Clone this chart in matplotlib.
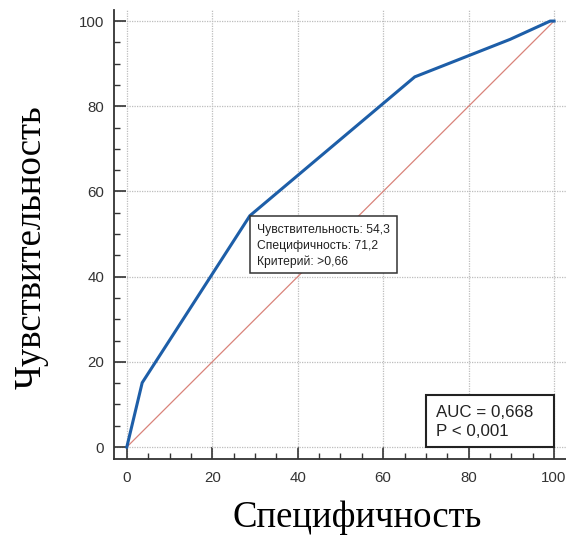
import matplotlib
matplotlib.use("Agg")
import matplotlib.pyplot as plt
from matplotlib.ticker import MultipleLocator
from matplotlib.patches import Rectangle

# ROC data
fpr = [0, 3.6, 28.8, 67.4, 89.7, 99.1, 100]
tpr = [0, 15.1, 54.3, 86.9, 95.7, 100, 100]
diag_x = [0, 100]
diag_y = [0, 100]
major_ticks = [0, 20, 40, 60, 80, 100]
cut_point = (28.8, 54.3)
cut_text = "Чувствительность: 54,3\nСпецифичность: 71,2\nКритерий: >0,66"
auc_text = "AUC = 0,668\nP < 0,001"
xlabel = "Специфичность"
ylabel = "Чувствительность"

fig = plt.figure(figsize=(5.66, 5.37), dpi=100)
ax = fig.add_axes([0.2014, 0.1453, 0.7986, 0.8361])
ax.set_xlim(-3, 102.8)
ax.set_ylim(-2.8, 102.6)

ax.grid(True, which="major", color="#bdbdbd", linestyle=(0, (1, 1)), linewidth=0.9)
ax.set_axisbelow(True)
ax.plot(diag_x, diag_y, color="#d9837a", linewidth=0.9, zorder=2)
ax.plot(fpr, tpr, color="#1d5ea8", linewidth=2.2, zorder=3, solid_joinstyle="miter")

ax.set_xticks(major_ticks)
ax.set_yticks(major_ticks)
ax.xaxis.set_minor_locator(MultipleLocator(5))
ax.yaxis.set_minor_locator(MultipleLocator(5))
ax.tick_params(which="major", direction="in", length=8.8, width=1.2, color="#333333",
               labelsize=10.8, labelcolor="#333333", pad=7)
ax.tick_params(which="minor", direction="in", length=4.3, width=1.0, color="#333333")
for lab in ax.get_xticklabels() + ax.get_yticklabels():
    lab.set_fontfamily("Liberation Sans")
ax.tick_params(axis="x", which="major", pad=9)

for s in ["top", "right"]:
    ax.spines[s].set_visible(False)
for s in ["left", "bottom"]:
    ax.spines[s].set_color("#333333")
    ax.spines[s].set_linewidth(1.3)

ax.set_xlabel(xlabel, family="Liberation Serif", fontsize=26.5, color="black")
ax.set_ylabel(ylabel, family="Liberation Serif", fontsize=26.5, color="black")
ax.xaxis.label.set_verticalalignment("center")
ax.yaxis.label.set_verticalalignment("center")
ax.xaxis.set_label_coords(0.5376, -0.1314)
ax.yaxis.set_label_coords(-0.1836, 0.472)

# cut-point box
ax.add_patch(Rectangle(cut_point, 34.4, -13.5, facecolor="white", edgecolor="#333333",
                       linewidth=1.1, zorder=5))
ax.text(cut_point[0] + 1.6, cut_point[1] - 7.1, cut_text, ha="left", va="center",
        family="Liberation Sans", fontsize=8.7, color="#222222", linespacing=1.45, zorder=6)

# AUC box
ax.add_patch(Rectangle((100, 0), -30.0, 12.2, facecolor="white", edgecolor="#222222",
                       linewidth=1.5, zorder=5))
ax.text(72.4, 5.9, auc_text, ha="left", va="center", multialignment="left",
        family="Liberation Sans", fontsize=12.2, color="#222222", linespacing=1.4, zorder=6)

fig.savefig("out.png", dpi=100)
